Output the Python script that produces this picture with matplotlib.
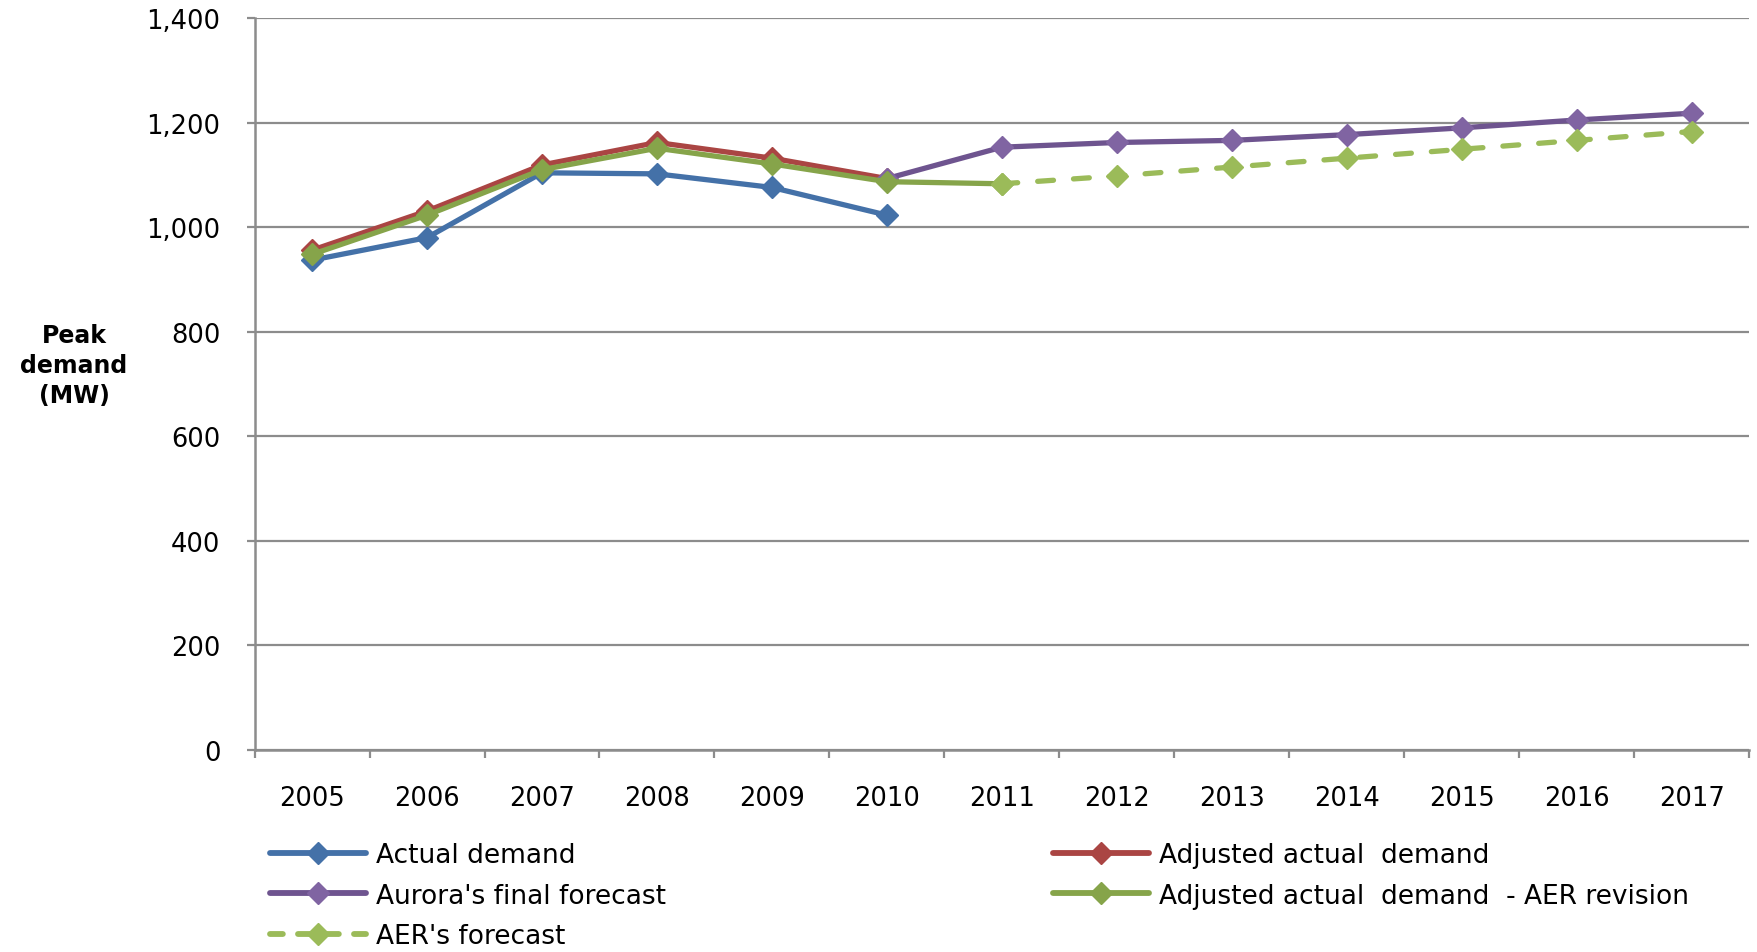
import matplotlib
matplotlib.use("Agg")
import matplotlib.pyplot as plt
from matplotlib.lines import Line2D
import numpy as np

years = ["2005", "2006", "2007", "2008", "2009", "2010", "2011",
         "2012", "2013", "2014", "2015", "2016", "2017"]

actual_demand = [937, 980, 1104, 1102, 1076, 1023]
adjusted_actual = [956, 1031, 1119, 1162, 1132, 1093]
aurora_forecast = [1093, 1153, 1162, 1166, 1177, 1190, 1205, 1218]
adjusted_aer_revision = [948, 1023, 1110, 1151, 1121, 1087, 1083]
aer_forecast = [1083, 1098, 1115, 1132, 1149, 1166, 1183]

y_ticks = [0, 200, 400, 600, 800, 1000, 1200, 1400]

c_blue = "#4471A8"
c_red = "#AA4543"
c_purple_line = "#6E548F"
c_purple_mk = "#8064A2"
c_green_line = "#86A44A"
c_green_mk = "#86A44A"
c_lgreen = "#9BBB59"

fig = plt.figure(figsize=(17.58, 9.53), dpi=100)
ax = fig.add_axes([0.1448, 0.212, 0.995 - 0.1448, 0.980 - 0.212])

x = np.arange(len(years))
lw = 3.8
ms = 11.5

ax.plot(x[0:6], actual_demand, color=c_blue, lw=lw, marker="D", ms=ms,
        mfc=c_blue, mec=c_blue, solid_joinstyle="round", zorder=3)
ax.plot(x[0:6], adjusted_actual, color=c_red, lw=lw, marker="D", ms=ms,
        mfc=c_red, mec=c_red, solid_joinstyle="round", zorder=4)
ax.plot(x[5:13], aurora_forecast, color=c_purple_line, lw=lw, marker="D", ms=ms,
        mfc=c_purple_mk, mec=c_purple_mk, solid_joinstyle="round", zorder=5)
ax.plot(x[0:7], adjusted_aer_revision, color=c_green_line, lw=lw, marker="D", ms=ms,
        mfc=c_green_mk, mec=c_green_mk, solid_joinstyle="round", zorder=6)
ax.plot(x[6:13], aer_forecast, color=c_lgreen, lw=lw, marker="D", ms=ms,
        mfc=c_lgreen, mec=c_lgreen, dashes=(3.0, 3.8), dash_capstyle="round",
        zorder=7)

ax.set_xlim(-0.5, len(years) - 0.5)
ax.set_ylim(0, 1400)
ax.set_yticks(y_ticks)
ax.set_yticklabels([f"{v:,}" for v in y_ticks])

# category boundaries carry the tick marks, category centres carry the labels
ax.set_xticks(np.arange(-0.5, len(years), 1.0))
ax.set_xticklabels([])
ax.set_xticks(x, minor=True)
ax.set_xticklabels(years, minor=True)

grid_c = "#8C8C8C"
ax.yaxis.grid(True, color=grid_c, lw=1.6)
ax.set_axisbelow(True)
for s in ("top", "right"):
    ax.spines[s].set_visible(False)
for s in ("left", "bottom"):
    ax.spines[s].set_color(grid_c)
    ax.spines[s].set_linewidth(1.8)

tick_size = 18.5
ax.tick_params(axis="y", which="major", length=6, width=1.6, color=grid_c,
               pad=18.5, labelsize=tick_size)
ax.tick_params(axis="x", which="major", length=6, width=1.6, color=grid_c)
ax.tick_params(axis="x", which="minor", length=0, pad=25, labelsize=tick_size)
for lab in ax.get_yticklabels() + ax.get_xticklabels(minor=True):
    lab.set_family("DejaVu Sans")

fig.text(74 / 1758, 1 - 366 / 953, "Peak\ndemand\n(MW)", ha="center", va="center",
         fontsize=17, fontweight="bold", family="DejaVu Sans", linespacing=1.32)


def handle(color, mcolor, dashed=False):
    kw = dict(color=color, lw=lw + 0.4, marker="D", ms=ms - 0.5, mfc=mcolor,
              mec=mcolor, solid_capstyle="round")
    if dashed:
        kw.update(dashes=(2.2, 2.6), dash_capstyle="round")
    return Line2D([], [], **kw)


leg_kw = dict(frameon=False, handlelength=3.65, handletextpad=0.36,
              labelspacing=0.55, borderpad=0, borderaxespad=0,
              prop=dict(family="DejaVu Sans", size=19))

leg1 = fig.legend(
    [handle(c_blue, c_blue), handle(c_purple_line, c_purple_mk),
     handle(c_lgreen, c_lgreen, dashed=True)],
    ["Actual demand", "Aurora's final forecast", "AER's forecast"],
    loc="upper left", bbox_to_anchor=(270 / 1758, 1 - 843 / 953), **leg_kw)
leg2 = fig.legend(
    [handle(c_red, c_red), handle(c_green_line, c_green_mk)],
    ["Adjusted actual  demand", "Adjusted actual  demand  - AER revision"],
    loc="upper left", bbox_to_anchor=(1053 / 1758, 1 - 843 / 953), **leg_kw)

fig.savefig("out.png", dpi=100, facecolor="white")
